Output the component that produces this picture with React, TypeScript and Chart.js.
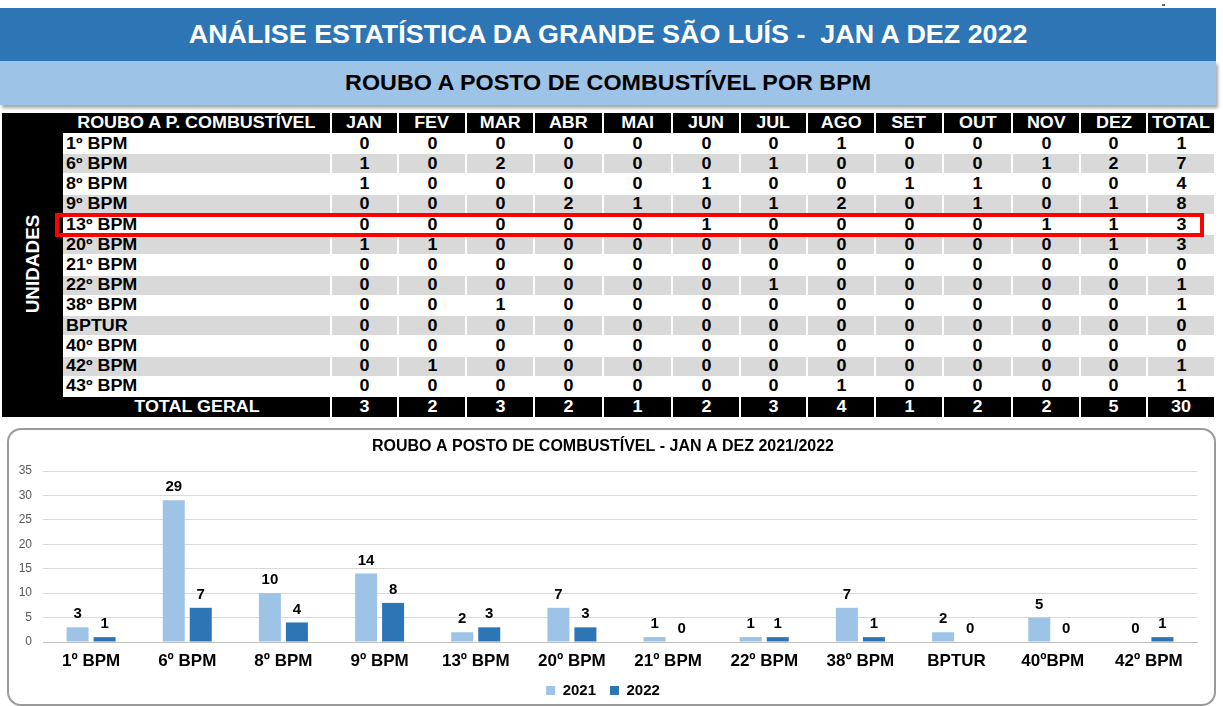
import React, { useEffect, useRef } from "react";
import { Chart, registerables } from "chart.js";

Chart.register(...registerables);

// ---------- Chart data ----------
const CHART_CATEGORIES = ["1º BPM", "6º BPM", "8º BPM", "9º BPM", "13º BPM", "20º BPM", "21º BPM", "22º BPM", "38º BPM", "BPTUR", "40ºBPM", "42º BPM"];
const VALUES_2021 = [3, 29, 10, 14, 2, 7, 1, 1, 7, 2, 5, 0];
const VALUES_2022 = [1, 7, 4, 8, 3, 3, 0, 1, 1, 0, 0, 1];
const SERIES_NAMES = ["2021", "2022"];
const Y_MAX = 35;
const Y_STEP = 5;

// ---------- Table data ----------
const MONTHS = ["JAN", "FEV", "MAR", "ABR", "MAI", "JUN", "JUL", "AGO", "SET", "OUT", "NOV", "DEZ"];
const UNITS = ["1º BPM", "6º BPM", "8º BPM", "9º BPM", "13º BPM", "20º BPM", "21º BPM", "22º BPM", "38º BPM", "BPTUR", "40º BPM", "42º BPM", "43º BPM"];
const M_1_BPM = [0, 0, 0, 0, 0, 0, 0, 1, 0, 0, 0, 0];
const M_6_BPM = [1, 0, 2, 0, 0, 0, 1, 0, 0, 0, 1, 2];
const M_8_BPM = [1, 0, 0, 0, 0, 1, 0, 0, 1, 1, 0, 0];
const M_9_BPM = [0, 0, 0, 2, 1, 0, 1, 2, 0, 1, 0, 1];
const M_13_BPM = [0, 0, 0, 0, 0, 1, 0, 0, 0, 0, 1, 1];
const M_20_BPM = [1, 1, 0, 0, 0, 0, 0, 0, 0, 0, 0, 1];
const M_21_BPM = [0, 0, 0, 0, 0, 0, 0, 0, 0, 0, 0, 0];
const M_22_BPM = [0, 0, 0, 0, 0, 0, 1, 0, 0, 0, 0, 0];
const M_38_BPM = [0, 0, 1, 0, 0, 0, 0, 0, 0, 0, 0, 0];
const M_BPTUR = [0, 0, 0, 0, 0, 0, 0, 0, 0, 0, 0, 0];
const M_40_BPM = [0, 0, 0, 0, 0, 0, 0, 0, 0, 0, 0, 0];
const M_42_BPM = [0, 1, 0, 0, 0, 0, 0, 0, 0, 0, 0, 0];
const M_43_BPM = [0, 0, 0, 0, 0, 0, 0, 1, 0, 0, 0, 0];
const UNIT_TOTALS = [1, 7, 4, 8, 3, 3, 0, 1, 1, 0, 0, 1, 1];
const MONTH_TOTALS = [3, 2, 3, 2, 1, 2, 3, 4, 1, 2, 2, 5];
const GRAND_TOTAL = 30;
const HIGHLIGHT_UNIT = "13º BPM";

const MONTHLY_ROWS = [M_1_BPM, M_6_BPM, M_8_BPM, M_9_BPM, M_13_BPM, M_20_BPM, M_21_BPM, M_22_BPM, M_38_BPM, M_BPTUR, M_40_BPM, M_42_BPM, M_43_BPM];

const FONT = '"Liberation Sans", Arial, Helvetica, sans-serif';
const COLOR_2021 = "#9DC3E6";
const COLOR_2022 = "#2E75B6";

function T(props: { children: any; size: number; sx?: number; color?: string; origin?: string }) {
  const { children, size, sx = 1.12, color = "#000", origin = "center" } = props;
  return (
    <span
      style={{
        display: "inline-block",
        fontFamily: FONT,
        fontWeight: 700,
        fontSize: size,
        lineHeight: 1,
        color,
        transform: `scaleX(${sx})`,
        transformOrigin: origin,
        whiteSpace: "nowrap",
      }}
    >
      {children}
    </span>
  );
}

function Cell(props: { x0: number; x1: number; y0: number; y1: number; bg?: string; left?: boolean; children?: any }) {
  const { x0, x1, y0, y1, bg, left, children } = props;
  return (
    <div
      style={{
        position: "absolute",
        left: x0,
        top: y0,
        width: x1 - x0,
        height: y1 - y0,
        background: bg || "transparent",
        display: "flex",
        alignItems: "center",
        justifyContent: left ? "flex-start" : "center",
        paddingLeft: left ? 3 : 0,
        boxSizing: "border-box",
      }}
    >
      {children}
    </div>
  );
}

function DataTable() {
  const COL_X = [63, 331, 398, 466, 534, 603, 672, 740, 807, 875, 943, 1012, 1080, 1147, 1215];
  const HEAD_TOP = 113;
  const HEAD_BOTTOM = 134;
  const ROW_H = 20.23;
  const rowTop = (i: number) => HEAD_BOTTOM + i * ROW_H;
  const totalTop = rowTop(UNITS.length);
  const totalBottom = totalTop + 20.5;
  const FS = 16;
  const cells: any[] = [];

  const headers = ["ROUBO A P. COMBUSTÍVEL", ...MONTHS, "TOTAL"];
  headers.forEach((h, c) => {
    cells.push(
      <Cell key={`h${c}`} x0={COL_X[c] + (c === 0 ? 0 : 1)} x1={COL_X[c + 1] - 1} y0={HEAD_TOP} y1={HEAD_BOTTOM - 1} bg="#000">
        <T size={FS} color="#fff">{h}</T>
      </Cell>
    );
  });

  UNITS.forEach((u, r) => {
    const y0 = rowTop(r);
    const y1 = y0 + ROW_H - 1;
    const bg = r % 2 === 1 ? "#D9D9D9" : undefined;
    const values = [...MONTHLY_ROWS[r], UNIT_TOTALS[r]];
    cells.push(
      <Cell key={`l${r}`} x0={COL_X[0]} x1={COL_X[1] - 1} y0={y0} y1={y1} bg={bg} left>
        <T size={FS} origin="left">{u}</T>
      </Cell>
    );
    values.forEach((v, c) => {
      cells.push(
        <Cell key={`v${r}_${c}`} x0={COL_X[c + 1] + 1} x1={COL_X[c + 2] - 1} y0={y0} y1={y1} bg={bg}>
          <T size={FS}>{v}</T>
        </Cell>
      );
    });
  });

  const totals = [...MONTH_TOTALS, GRAND_TOTAL];
  cells.push(
    <Cell key="tl" x0={COL_X[0]} x1={COL_X[1] - 1} y0={totalTop} y1={totalBottom} bg="#000">
      <T size={FS} color="#fff">TOTAL GERAL</T>
    </Cell>
  );
  totals.forEach((v, c) => {
    cells.push(
      <Cell key={`t${c}`} x0={COL_X[c + 1] + 1} x1={COL_X[c + 2] - 1} y0={totalTop} y1={totalBottom} bg="#000">
        <T size={FS} color="#fff">{v}</T>
      </Cell>
    );
  });

  const hi = UNITS.indexOf(HIGHLIGHT_UNIT);
  const hiTop = rowTop(hi);

  return (
    <>
      <div style={{ position: "absolute", left: 2, top: HEAD_TOP, width: COL_X[0] - 2, height: totalBottom - HEAD_TOP, background: "#000" }} />
      <div
        style={{
          position: "absolute",
          left: 33,
          top: 264,
          transform: "translate(-50%, -50%) rotate(-90deg)",
          whiteSpace: "nowrap",
        }}
      >
        <T size={18} sx={1.05} color="#fff">UNIDADES</T>
      </div>
      {cells}
      <div
        style={{
          position: "absolute",
          left: 55,
          top: hiTop - 2,
          width: 1149,
          height: ROW_H + 4,
          border: "4px solid #FF0000",
          boxSizing: "border-box",
        }}
      />
    </>
  );
}

function BarChart() {
  const ref = useRef<HTMLCanvasElement | null>(null);
  useEffect(() => {
    if (!ref.current) return;
    const labelPlugin = {
      id: "valueLabels",
      afterDatasetsDraw(chart: any) {
        const ctx = chart.ctx;
        ctx.save();
        ctx.font = `bold 15px ${FONT}`;
        ctx.fillStyle = "#000";
        ctx.textAlign = "center";
        ctx.textBaseline = "middle";
        chart.data.datasets.forEach((ds: any, di: number) => {
          const meta = chart.getDatasetMeta(di);
          meta.data.forEach((el: any, i: number) => {
            ctx.fillText(String(ds.data[i]), el.x, el.y - 13);
          });
        });
        ctx.restore();
      },
    };
    const chart = new Chart(ref.current, {
      type: "bar",
      data: {
        labels: CHART_CATEGORIES,
        datasets: [
          { label: SERIES_NAMES[0], data: VALUES_2021, backgroundColor: COLOR_2021, borderWidth: 0, categoryPercentage: 0.5615, barPercentage: 0.815 },
          { label: SERIES_NAMES[1], data: VALUES_2022, backgroundColor: COLOR_2022, borderWidth: 0, categoryPercentage: 0.5615, barPercentage: 0.815 },
        ],
      },
      options: {
        responsive: false,
        animation: false,
        layout: { padding: { left: 0, right: 17, top: 0, bottom: 0 } },
        plugins: {
          title: {
            display: true,
            text: "ROUBO A POSTO DE COMBUSTÍVEL - JAN A DEZ 2021/2022",
            color: "#000",
            font: { family: FONT, size: 16, weight: "bold" },
            padding: { top: 7.4, bottom: 14.4 },
          },
          legend: {
            display: true,
            position: "bottom",
            labels: {
              boxWidth: 9,
              boxHeight: 9,
              padding: 14,
              color: "#000",
              font: { family: FONT, size: 15, weight: "bold" },
            },
          },
          tooltip: { enabled: false },
        },
        scales: {
          x: {
            grid: { display: false, drawTicks: false },
            border: { display: true, color: "#BFBFBF", width: 1 },
            ticks: { color: "#000", padding: 9, font: { family: FONT, size: 17, weight: "bold" }, maxRotation: 0, autoSkip: false },
            afterFit: (s: any) => {
              s.height = 27;
            },
          },
          y: {
            min: 0,
            max: Y_MAX,
            grid: { color: "#D9D9D9", drawTicks: false },
            border: { display: false },
            ticks: { stepSize: Y_STEP, color: "#595959", padding: 11, font: { family: FONT, size: 12 } },
            afterFit: (s: any) => {
              s.width = 34;
            },
          },
        },
      },
      plugins: [labelPlugin],
    } as any);
    return () => chart.destroy();
  }, []);
  return (
    <canvas
      ref={ref}
      width={1205}
      height={278}
      style={{ position: "absolute", left: 9, top: 430, width: 1205, height: 278, display: "block" }}
    />
  );
}

export default function App() {
  useEffect(() => {
    document.body.style.margin = "0";
  }, []);
  return (
    <div style={{ position: "absolute", left: 0, top: 0, width: 1223, height: 706, overflow: "hidden", background: "#fff", fontFamily: FONT }}>
      <div
        style={{
          position: "absolute",
          left: 0,
          top: 8,
          width: 1216,
          height: 53,
          background: "#2E75B6",
          display: "flex",
          alignItems: "center",
          justifyContent: "center",
        }}
      >
        <T size={25} sx={1.075} color="#fff">ANÁLISE ESTATÍSTICA DA GRANDE SÃO LUÍS -&nbsp; JAN A DEZ 2022</T>
      </div>
      <div
        style={{
          position: "absolute",
          left: 0,
          top: 61,
          width: 1216,
          height: 44,
          background: "#9DC3E6",
          boxShadow: "2px 3px 3px rgba(0,0,0,0.35)",
          display: "flex",
          alignItems: "center",
          justifyContent: "center",
        }}
      >
        <T size={22} sx={1.06} color="#000">ROUBO A POSTO DE COMBUSTÍVEL POR BPM</T>
      </div>
      <div style={{ position: "absolute", left: 1162, top: 4, width: 3, height: 2, background: "#666" }} />

      <DataTable />

      <div
        style={{
          position: "absolute",
          left: 7,
          top: 428,
          width: 1209,
          height: 278,
          border: "2px solid #9A9A9A",
          borderRadius: 14,
          boxSizing: "border-box",
          background: "#fff",
        }}
      />
      <BarChart />
    </div>
  );
}
